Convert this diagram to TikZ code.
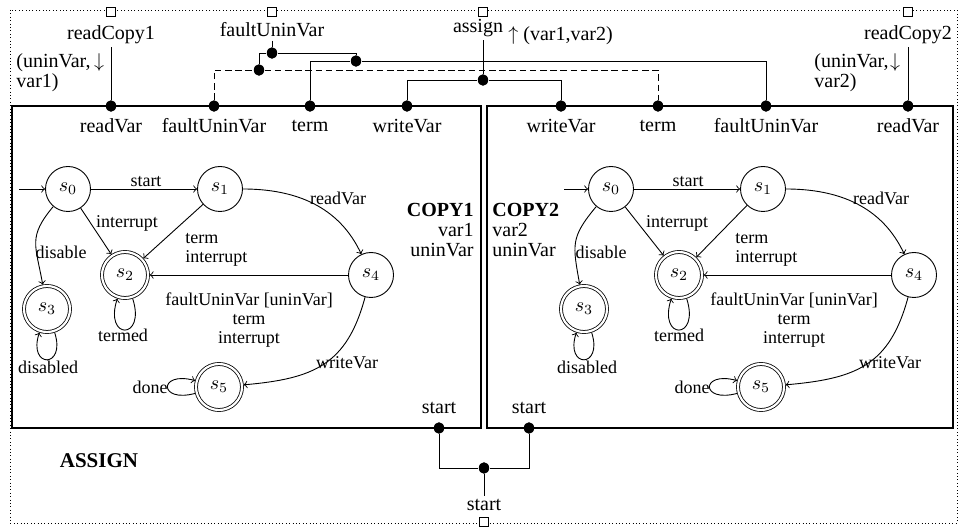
\documentclass[tikz,border=0pt]{standalone}
\usepackage[no-math]{fontspec}
\setmainfont{Liberation Serif}
\usetikzlibrary{shapes.geometric}
\begin{document}
\begin{tikzpicture}[x=0.5pt,y=0.5pt,
  stnode/.style={circle,draw,line width=0.45pt,minimum size=22.5pt,inner sep=0pt,font=\fontsize{10}{12}\selectfont},
  accnode/.style={circle,draw,line width=0.4pt,double,double distance=1.1pt,minimum size=23pt,inner sep=0pt,outer sep=0.9pt,font=\fontsize{10}{12}\selectfont},
  lab/.style={font=\fontsize{9}{9.5}\selectfont,inner sep=0pt,align=center},
  outl/.style={font=\fontsize{10}{10}\selectfont,inner sep=1.5pt},
  dot/.style={ellipse,fill,inner sep=0pt,minimum width=5.2pt,minimum height=5.8pt},
  portsq/.style={rectangle,draw,fill=white,line width=0.4pt,inner sep=0pt,minimum width=4.2pt,minimum height=4.6pt},
  tr/.style={->,line width=0.45pt},
  wire/.style={line width=0.45pt},
  boxline/.style={line width=0.8pt}
]
\useasboundingbox (0,0) rectangle (965,-529);
% outer composite border
\draw[dash pattern=on 0.4pt off 1.3pt, line width=0.4pt] (10,-10) rectangle (957,-523);
% component boxes
\draw[boxline] (12,-106) rectangle (481,-428);
\draw[boxline] (487,-106) rectangle (953,-428);

% outer ports
\node[portsq] (pRC1) at (111,-12) {};
\node[portsq] (pFU) at (272,-12) {};
\node[portsq] (pAS) at (483,-12) {};
\node[portsq] (pRC2) at (908,-12) {};
\node[portsq] (pST) at (484,-522) {};

% outer labels
\node[outl] (lRC1) at (111,-35) {readCopy1};
\node[outl,align=left,anchor=west] (lRC1v) at (13,-73) {(uninVar,\\var1)};
\node[outl] (aRC1) at (99,-63) {$\downarrow$};
\node[outl] (lFU) at (272,-30) {faultUninVar};
\node[outl] (lAS) at (478,-28) {assign};
\node[outl,anchor=west] (lASv) at (505,-36) {$\uparrow$\ (var1,var2)};
\node[outl] (lRC2) at (908,-35) {readCopy2};
\node[outl,align=left,anchor=west] (lRC2v) at (811,-73) {(uninVar,\\var2)};
\node[outl] (aRC2) at (895,-63) {$\downarrow$};
\node[outl] (lSTb) at (484,-505) {start};
\node[font=\fontsize{10.5}{12}\selectfont\bfseries] (lASSIGN) at (99,-461) {ASSIGN};

% port dots on boxes
\node[dot] (dRV1) at (111,-106) {};
\node[dot] (dFU1) at (214,-106) {};
\node[dot] (dTE1) at (310,-106) {};
\node[dot] (dWV1) at (407,-106) {};
\node[dot] (dWV2) at (561,-106) {};
\node[dot] (dTE2) at (658,-106) {};
\node[dot] (dFU2) at (766,-106) {};
\node[dot] (dRV2) at (908,-106) {};
\node[dot] (dST1) at (439,-428) {};
\node[dot] (dST2) at (529,-428) {};
% junctions
\node[dot] (jF) at (272,-53) {};
\node[dot] (jT) at (356,-61) {};
\node[dot] (jD) at (259,-70) {};
\node[dot] (jA) at (483,-80) {};
\node[dot] (jS) at (484,-468) {};

% port labels
\node[outl] (tRV1) at (111,-126) {readVar};
\node[outl] (tFU1) at (214,-126) {faultUninVar};
\node[outl] (tTE1) at (310,-126) {term};
\node[outl] (tWV1) at (407,-126) {writeVar};
\node[outl] (tWV2) at (561,-126) {writeVar};
\node[outl] (tTE2) at (658,-126) {term};
\node[outl] (tFU2) at (766,-126) {faultUninVar};
\node[outl] (tRV2) at (908,-126) {readVar};
\node[outl] (tST1) at (439,-408) {start};
\node[outl] (tST2) at (529,-408) {start};

% wires
\draw[wire] (lRC1) -- (dRV1);
\draw[wire] (lRC2) -- (dRV2);
\draw[wire] (lFU) -- (jF);
\draw[wire] (jF) -| (jT);
\draw[wire] (jF) -| (jD);
\draw[wire] (dTE1) |- (jT) -| (dFU2);
\draw[wire,dash pattern=on 3.3pt off 1.8pt] (dFU1) |- (jD) -| (dTE2);
\draw[wire] (jA |- lAS.south) -- (jA);
\draw[wire] (dWV1) |- (jA) -| (dWV2);
\draw[wire] (dST1) |- (jS) -| (dST2);
\draw[wire] (jS) -- (lSTb);

% ---------- COPY1 ----------
\node[outl,align=right,anchor=east] (c1l) at (477,-230) {\textbf{COPY1}\\var1\\uninVar};
\node[stnode] (a0) at (68,-189) {$s_0$};
\node[stnode] (a1) at (220,-189) {$s_1$};
\node[accnode] (a2) at (125,-275) {$s_2$};
\node[accnode] (a3) at (47,-309) {$s_3$};
\node[stnode] (a4) at (371,-275) {$s_4$};
\node[accnode] (a5) at (219,-387) {$s_5$};
\coordinate (ainit) at (19,-189);
\draw[tr] (ainit) -- (a0);
\draw[tr] (a0) -- (a1);
\draw[tr] (a0) -- (a2);
\draw[tr] (a1) -- (a2);
\draw[tr] (a0) to[out=-130,in=100,looseness=1.3] (a3);
\draw[tr] (a1) to[out=0,in=115] (a4);
\draw[tr] (a4) -- (a2);
\draw[tr] (a4) to[out=-105,in=5,looseness=1.2] (a5);
\draw[tr] (a2.-72) .. controls +(-72:22pt) and +(-108:22pt) .. (a2.-108);
\draw[tr] (a3.-72) .. controls +(-72:19pt) and +(-108:19pt) .. (a3.-108);
\draw[tr] (a5.-165) .. controls +(-165:19pt) and +(165:19pt) .. (a5.165);
\node[lab,anchor=base] (a01l) at (146,-187) {start};
\node[lab] (a02l) at (127,-223) {interrupt};
\node[lab,align=left,anchor=west] (a12l) at (185,-249.5) {term\\interrupt};
\node[lab] (a03l) at (61,-252) {disable};
\node[lab] (a14l) at (338,-198) {readVar};
\node[lab] (a42l) at (249,-320) {faultUninVar [uninVar]\\term\\interrupt};
\node[lab] (a22l) at (123,-335) {termed};
\node[lab] (a33l) at (48,-367) {disabled};
\node[lab] (a55l) at (150,-387) {done};
\node[lab] (a45l) at (347,-363) {writeVar};

% ---------- COPY2 ----------
\node[outl,align=left,anchor=west] (c2l) at (489,-230) {\textbf{COPY2}\\var2\\uninVar};
\node[stnode] (b0) at (611,-189) {$s_0$};
\node[stnode] (b1) at (763,-189) {$s_1$};
\node[accnode] (b2) at (679,-275) {$s_2$};
\node[accnode] (b3) at (584,-309) {$s_3$};
\node[stnode] (b4) at (914,-275) {$s_4$};
\node[accnode] (b5) at (761,-387) {$s_5$};
\coordinate (binit) at (564,-189);
\draw[tr] (binit) -- (b0);
\draw[tr] (b0) -- (b1);
\draw[tr] (b0) -- (b2);
\draw[tr] (b1) -- (b2);
\draw[tr] (b0) to[out=-130,in=100,looseness=1.3] (b3);
\draw[tr] (b1) to[out=0,in=115] (b4);
\draw[tr] (b4) -- (b2);
\draw[tr] (b4) to[out=-105,in=5,looseness=1.2] (b5);
\draw[tr] (b2.-72) .. controls +(-72:22pt) and +(-108:22pt) .. (b2.-108);
\draw[tr] (b3.-72) .. controls +(-72:19pt) and +(-108:19pt) .. (b3.-108);
\draw[tr] (b5.-165) .. controls +(-165:19pt) and +(165:19pt) .. (b5.165);
\node[lab,anchor=base] (b01l) at (688,-187) {start};
\node[lab] (b02l) at (677,-223) {interrupt};
\node[lab,align=left,anchor=west] (b12l) at (735,-249.5) {term\\interrupt};
\node[lab] (b03l) at (601,-252) {disable};
\node[lab] (b14l) at (881,-198) {readVar};
\node[lab] (b42l) at (794,-320) {faultUninVar [uninVar]\\term\\interrupt};
\node[lab] (b22l) at (679,-335) {termed};
\node[lab] (b33l) at (587,-367) {disabled};
\node[lab] (b55l) at (692,-387) {done};
\node[lab] (b45l) at (890,-363) {writeVar};
\end{tikzpicture}
\end{document}
